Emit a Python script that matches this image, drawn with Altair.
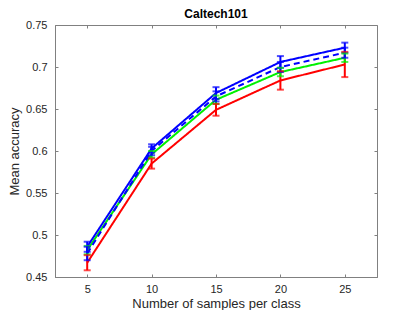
import altair as alt
import pandas as pd

samples = [5, 10, 15, 20, 25]
y_ticks = [0.45, 0.5, 0.55, 0.6, 0.65, 0.7, 0.75]
series = ["Red", "Green", "Blue dashed", "Blue"]
colors = ["#FF0000", "#00F000", "#0000FF", "#0000FF"]
dashes = [[1, 0], [1, 0], [6, 4], [1, 0]]

mean_red = [0.467, 0.585, 0.649, 0.684, 0.703]
err_red = [0.009, 0.006, 0.007, 0.011, 0.015]
mean_green = [0.482, 0.596, 0.661, 0.694, 0.711]
err_green = [0.005, 0.004, 0.005, 0.005, 0.005]
mean_bdash = [0.478, 0.600, 0.665, 0.700, 0.717]
err_bdash = [0.008, 0.005, 0.006, 0.006, 0.006]
mean_blue = [0.486, 0.603, 0.669, 0.706, 0.723]
err_blue = [0.006, 0.005, 0.007, 0.007, 0.006]

rows = []
for name, m, e in zip(series, [mean_red, mean_green, mean_bdash, mean_blue],
                      [err_red, err_green, err_bdash, err_blue]):
    for i, x in enumerate(samples):
        rows.append({"series": name, "order": series.index(name), "x": x,
                     "y": m[i], "lo": m[i] - e[i], "hi": m[i] + e[i]})
df = pd.DataFrame(rows)

xs = alt.Scale(domain=[2.5, 27.5], nice=False, zero=False)
ys = alt.Scale(domain=[0.45, 0.75], nice=False, zero=False)
col = alt.Color("series:N", scale=alt.Scale(domain=series, range=colors), legend=None)
dash = alt.StrokeDash("series:N", scale=alt.Scale(domain=series, range=dashes), legend=None)

AX = "#808080"
TXT = "#262626"
FONT = "Liberation Sans"

def tick_axis(orient, vals):
    return alt.Axis(orient=orient, values=vals, offset=-3, tickSize=3, labels=False,
                    domain=False, title=None, grid=False, ticks=True, tickColor=AX)

xaxis = alt.Axis(values=samples, title="Number of samples per class", grid=False,
                 ticks=False, labelPadding=6, titlePadding=3, domainColor=AX,
                 labelFontSize=11, titleFontSize=13, labelColor=TXT, titleColor=TXT,
                 labelFont=FONT, titleFont=FONT, titleFontWeight="normal")
yaxis = alt.Axis(values=y_ticks, format="~g", title="Mean accuracy", grid=False,
                 ticks=False, labelPadding=8, titlePadding=4, domainColor=AX,
                 labelFontSize=11, titleFontSize=13, labelColor=TXT, titleColor=TXT,
                 labelFont=FONT, titleFont=FONT, titleFontWeight="normal")

base = alt.Chart(df)
lines = base.mark_line(strokeWidth=2).encode(
    x=alt.X("x:Q", scale=xs, axis=xaxis),
    y=alt.Y("y:Q", scale=ys, axis=yaxis),
    color=col, strokeDash=dash, detail="series:N", order="order:Q")
rules = base.mark_rule(strokeWidth=2).encode(
    x=alt.X("x:Q", scale=xs, axis=tick_axis("bottom", samples)),
    y=alt.Y("lo:Q", scale=ys, axis=tick_axis("left", y_ticks)),
    y2="hi:Q", color=col)
cap_lo = base.mark_tick(orient="horizontal", size=7, thickness=2).encode(
    x=alt.X("x:Q", scale=xs, axis=tick_axis("top", samples)),
    y=alt.Y("lo:Q", scale=ys, axis=tick_axis("right", y_ticks)),
    color=col)
cap_hi = base.mark_tick(orient="horizontal", size=7, thickness=2).encode(
    x=alt.X("x:Q", scale=xs, axis=None),
    y=alt.Y("hi:Q", scale=ys, axis=None),
    color=col)

chart = alt.layer(lines, rules, cap_lo, cap_hi).resolve_axis(
    x="independent", y="independent"
).properties(
    width=322, height=252,
    title=alt.TitleParams("Caltech101", fontSize=12, fontWeight="bold", font=FONT,
                          color="#000", offset=-2),
    padding={"left": 0, "top": 0, "right": 5, "bottom": 0}
).configure_view(stroke=AX, strokeWidth=1)

chart.save("out.html", embed_options={"renderer": "svg", "actions": False})
